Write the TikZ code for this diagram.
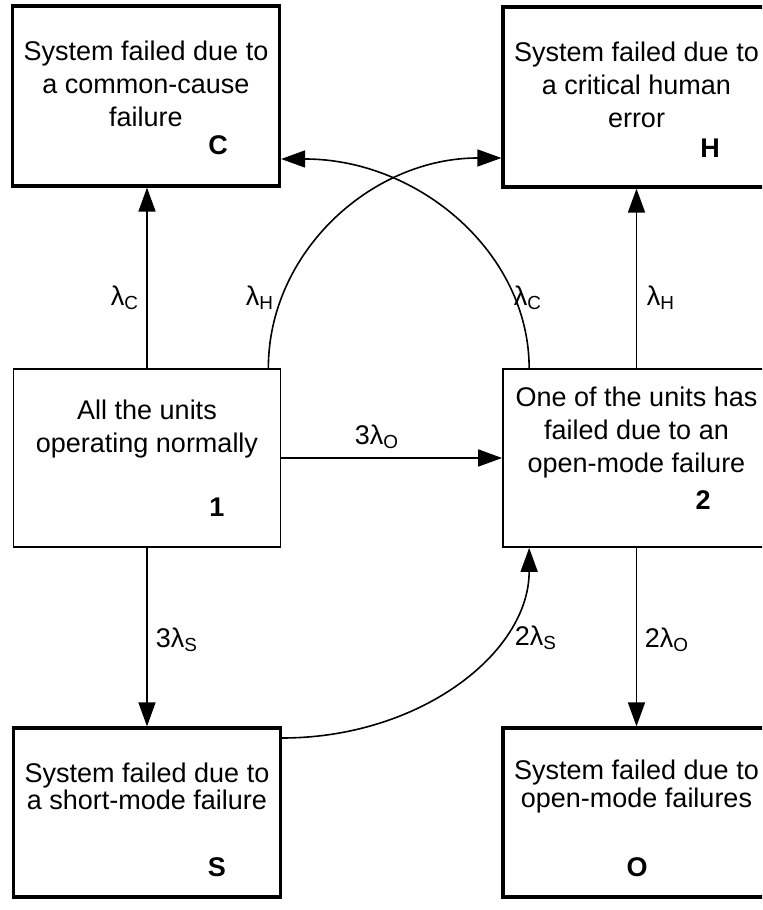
\documentclass[tikz,border=0pt]{standalone}
\usepackage{fontspec}
\setmainfont{Liberation Sans}
\usetikzlibrary{arrows.meta,calc}

\begin{document}
\begin{tikzpicture}[x=0.5pt, y=0.5pt, >={Triangle[length=12pt,width=8.5pt]},
    absorb/.style={draw, line width=1.6pt, minimum width=133.5pt, minimum height=90pt, inner sep=0pt},
    live/.style={absorb, line width=0.85pt, minimum height=89pt},
    txt/.style={align=center, font=\fontsize{13.5}{16.5}\selectfont},
    tighttxt/.style={align=center, font=\fontsize{13.5}{13.8}\selectfont},
    tag/.style={font=\fontsize{13.5}{16}\selectfont\bfseries},
    rate/.style={font=\fontsize{13.5}{16}\selectfont},
    flow/.style={->, line width=0.8pt}]

    \useasboundingbox[fill=white] (0,0) rectangle (762,910);
    \clip (0,0) rectangle (762,910);

    % Working states
    \node[live] (one) at (147,452) {};
    \node[live] (two) at (636.5,452) {};

    % Failed states
    \node[absorb] (common) at (146,814) {};
    \node[absorb] (human) at (636.5,813) {};
    \node[absorb, minimum height=84.5pt] (short) at (147,97.5) {};
    \node[absorb, minimum height=84.5pt] (open) at (636.5,97.5) {};

    % Box texts and state tags
    \node[txt] (commonTxt) at (146,826.5) {System failed due to\\a common-cause\\failure};
    \node[tag] (commonTag) at (218,765) {C};
    \node[txt] (humanTxt) at (636.5,825) {System failed due to\\a critical human\\error};
    \node[tag] (humanTag) at (710,762) {H};
    \node[txt] (oneTxt) at (147,480.5) {All the units\\operating normally};
    \node[tag] (oneTag) at (217,403) {1};
    \node[txt] (twoTxt) at (636.5,477) {One of the units has\\failed due to an\\open-mode failure};
    \node[tag] (twoTag) at (703,410) {2};
    \node[tighttxt] (shortTxt) at (147,123.5) {System failed due to\\a short-mode failure};
    \node[tag] (shortTag) at (217,43) {S};
    \node[tighttxt] (openTxt) at (636.5,123.5) {System failed due to\\open-mode failures};
    \node[tag] (openTag) at (637,43) {O};

    % Straight transitions
    \draw[flow] (one) -- (two);
    \draw[flow] (one.north) -- (one.north |- common.south);
    \draw[flow] (one.south) -- (one.south |- short.north);
    \draw[flow] (two.north) -- (two.north |- human.south);
    \draw[flow] (two.south) -- (two.south |- open.north);

    % Curved transitions
    \draw[flow] ($(one.north east)+(-13,0)$) .. controls +(0,116) and +(-130,0) .. ($(human.west)+(0,-61)$);
    \draw[flow] ($(two.north west)+(27,0)$) .. controls +(0,115) and +(138,0) .. ($(common.east)+(0,-63)$);
    \draw[flow] ($(short.east)+(0,74.5)$) .. controls +(138,0) and +(0,-105) .. ($(two.south west)+(27,0)$);

    % Rates
    \node[rate] (rC1) at (125,612) {λ\textsubscript{C}};
    \node[rate] (rH1) at (260,612) {λ\textsubscript{H}};
    \node[rate] (rC2) at (528,612) {λ\textsubscript{C}};
    \node[rate] (rH2) at (661,612) {λ\textsubscript{H}};
    \node[rate] (rO1) at (377,473) {3λ\textsubscript{O}};
    \node[rate] (rS1) at (177,270) {3λ\textsubscript{S}};
    \node[rate] (rS2) at (536,272) {2λ\textsubscript{S}};
    \node[rate] (rO2) at (667,270) {2λ\textsubscript{O}};

\end{tikzpicture}
\end{document}
